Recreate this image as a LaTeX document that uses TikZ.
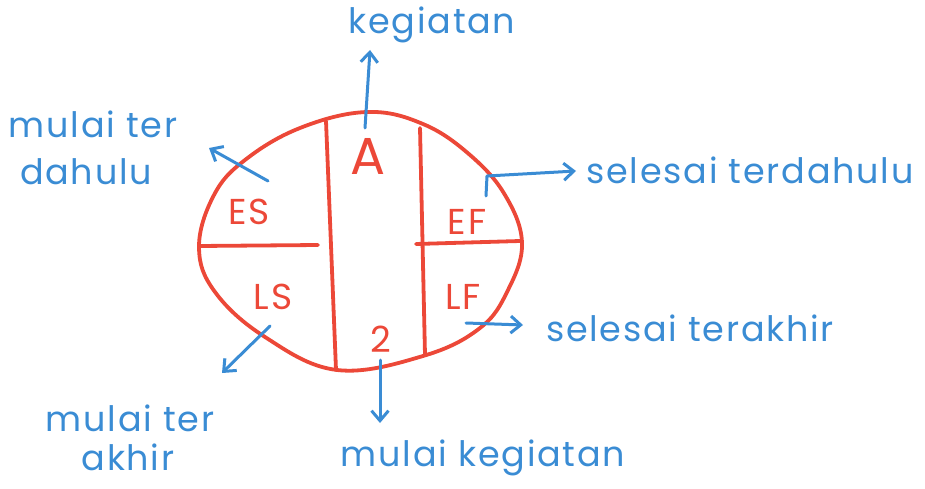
\documentclass[tikz,border=0pt]{standalone}
\usepackage{fontspec}
\setmainfont{Poppins}[LetterSpace=5]
\usetikzlibrary{arrows.meta}
\definecolor{penblue}{RGB}{58,140,212}
\definecolor{penred}{RGB}{236,72,56}
\begin{document}
\begin{tikzpicture}[x=1pt,y=-1pt,
  redline/.style={draw=penred, line width=3.8pt, line cap=round, line join=round},
  bluearrow/.style={draw=penblue, line width=3pt, line cap=round, line join=round,
    -{Straight Barb[length=10pt,width=17pt,line width=3pt]}},
  bluetext/.style={text=penblue, inner sep=0pt, font=\fontsize{35}{38}\selectfont},
  redtext/.style={text=penred, inner sep=0pt, font=\fontsize{36}{40}\selectfont}]
\useasboundingbox (0,0) rectangle (925,489);
% egg shaped outline
\draw[redline] plot[smooth cycle, tension=0.65] coordinates {
  (199,247) (214,195) (245,160) (300,128) (367,112) (423,124) (470,155)
  (505,195) (522,243) (508,290) (480,328) (423,356) (337,370) (265,337) (215,292)};
% dividers
\coordinate (vl1) at (326,121); \coordinate (vl2) at (336,370);
\coordinate (vr1) at (420,128); \coordinate (vr2) at (425,355);
\coordinate (hl1) at (199,246); \coordinate (hl2) at (318,245);
\coordinate (hr1) at (416,244); \coordinate (hr2) at (520,241);
\draw[redline] (vl1) -- (vl2);
\draw[redline] (vr1) -- (vr2);
\draw[redline] (hl1) -- (hl2);
\draw[redline] (hr1) -- (hr2);
% cell labels
\node[redtext, font=\fontsize{52}{54}\selectfont] (A) at (368,156) {A};
\node[redtext] (ES) at (249,212) {ES};
\node[redtext] (EF) at (467,222) {EF};
\node[redtext] (LS) at (273,297) {LS};
\node[redtext] (LF) at (463,297) {LF};
\node[redtext] (two) at (381,339) {2};
% outer labels
\node[bluetext] (keg) at (432,25) {kegiatan};
\node[bluetext] (mtd1) at (93,124) {mulai ter};
\node[bluetext] (mtd2) at (86,172) {dahulu};
\node[bluetext] (std) at (750,170) {selesai terdahulu};
\node[bluetext] (sta) at (690,328) {selesai terakhir};
\node[bluetext] (mta1) at (130,418) {mulai ter};
\node[bluetext] (mta2) at (128,457) {akhir};
\node[bluetext] (mkeg) at (483,458) {mulai kegiatan};
% arrows
\coordinate (a1s) at (365,128); \coordinate (a1e) at (370,50);
\coordinate (a2s) at (268,181); \coordinate (a2e) at (209,148);
\coordinate (a3s) at (486,196); \coordinate (a3m) at (487,176); \coordinate (a3e) at (576,171);
\coordinate (a4s) at (466,323); \coordinate (a4e) at (523,325);
\coordinate (a5s) at (270,326); \coordinate (a5e) at (222,373);
\coordinate (a6s) at (380,360); \coordinate (a6e) at (380,423);
\draw[bluearrow] (a1s) -- (a1e);
\draw[bluearrow] (a2s) -- (a2e);
\draw[bluearrow] (a3s) -- (a3m) -- (a3e);
\draw[bluearrow] (a4s) -- (a4e);
\draw[bluearrow] (a5s) -- (a5e);
\draw[bluearrow] (a6s) -- (a6e);
\end{tikzpicture}
\end{document}
